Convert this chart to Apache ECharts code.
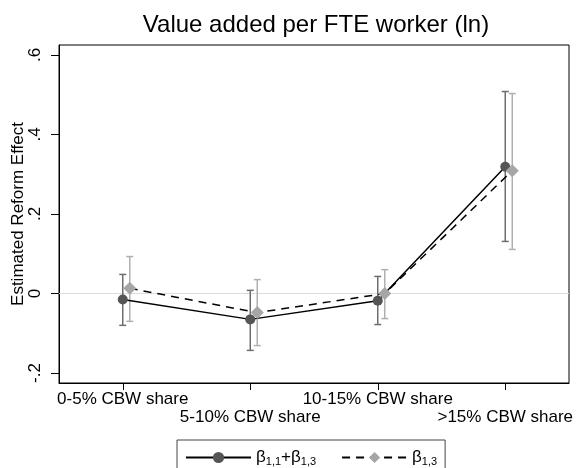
<!DOCTYPE html>
<html>
<head>
<meta charset="utf-8">
<script src="https://cdn.jsdelivr.net/npm/echarts@6/dist/echarts.min.js"></script>
<style>html,body{margin:0;padding:0;background:#fff}#c{width:577px;height:468px}</style>
</head>
<body>
<div id="c"></div>
<script>
const categories = ['0-5% CBW share', '5-10% CBW share', '10-15% CBW share', '>15% CBW share'];
const catPos = [1, 2, 3, 4];
const catRow1 = [1, 3];
const catRow2 = [2, 4];
// beta_{1,1}+beta_{1,3}
const est1 = [-0.015, -0.065, -0.018, 0.319];
const lo1 = [-0.080, -0.143, -0.078, 0.131];
const hi1 = [0.048, 0.008, 0.043, 0.508];
// beta_{1,3}
const est2 = [0.013, -0.048, 0.000, 0.309];
const lo2 = [-0.070, -0.131, -0.063, 0.111];
const hi2 = [0.093, 0.035, 0.060, 0.503];
const yTicks = [-0.2, 0, 0.2, 0.4, 0.6];

const shift2 = 0.055; // horizontal dodge of the second series
const FONT = 'Liberation Sans, Arial, Helvetica, sans-serif';

const pts1 = catPos.map((x, i) => [x, est1[i]]);
const pts2 = catPos.map((x, i) => [x + shift2, est2[i]]);
const ci1 = catPos.map((x, i) => [x, lo1[i], hi1[i]]);
const ci2 = catPos.map((x, i) => [x + shift2, lo2[i], hi2[i]]);

function ciRenderer(color) {
  return function (params, api) {
    const x = api.value(0), lo = api.value(1), hi = api.value(2);
    const a = api.coord([x, lo]), b = api.coord([x, hi]);
    const w = 3.5;
    const st = { stroke: color, lineWidth: 1.5 };
    return {
      type: 'group',
      children: [
        { type: 'line', shape: { x1: a[0], y1: a[1], x2: b[0], y2: b[1] }, style: st },
        { type: 'line', shape: { x1: a[0] - w, y1: a[1], x2: a[0] + w, y2: a[1] }, style: st },
        { type: 'line', shape: { x1: b[0] - w, y1: b[1], x2: b[0] + w, y2: b[1] }, style: st }
      ]
    };
  };
}

function fmtY(v) {
  if (v === 0) return '0';
  return String(v).replace('0.', '.');
}
function fmtX(v) {
  return categories[catPos.indexOf(v)];
}

const chart = echarts.init(document.getElementById('c'), null, { renderer: 'canvas' });
chart.setOption({
  backgroundColor: '#fff',
  animation: false,
  textStyle: { fontFamily: FONT },
  title: {
    text: 'Value added per FTE worker (ln)',
    left: 311, top: 8, textAlign: 'center',
    textStyle: { fontFamily: FONT, fontSize: 24, fontWeight: 'normal', color: '#000' }
  },
  grid: {
    left: 59, right: 8, top: 45, bottom: 85, show: true, borderColor: '#000', borderWidth: 1,
    containLabel: false, outerBoundsMode: 'none'
  },
  xAxis: [
    {
      type: 'value', min: 0.5, max: 4.5, position: 'bottom',
      axisLine: { show: true, onZero: false, lineStyle: { color: '#000', width: 1 } },
      axisTick: { show: true, length: 7, customValues: catPos, lineStyle: { color: '#000' } },
      splitLine: { show: false },
      axisLabel: {
        customValues: catRow1, margin: 8, color: '#000', fontSize: 17, fontFamily: FONT,
        showMinLabel: true, showMaxLabel: true, hideOverlap: false,
        formatter: fmtX
      }
    },
    {
      type: 'value', min: 0.5, max: 4.5, position: 'bottom',
      axisLine: { show: false, onZero: false },
      axisTick: { show: false },
      splitLine: { show: false },
      axisLabel: {
        customValues: catRow2, margin: 26, color: '#000', fontSize: 17, fontFamily: FONT,
        showMinLabel: true, showMaxLabel: true, hideOverlap: false,
        formatter: fmtX
      }
    }
  ],
  yAxis: {
    type: 'value', min: -0.225, max: 0.625,
    name: 'Estimated Reform Effect', nameLocation: 'middle', nameGap: 32, nameMoveOverlap: false,
    nameTextStyle: { fontSize: 17, color: '#000', fontFamily: FONT },
    axisLine: { show: true, onZero: false, lineStyle: { color: '#000', width: 1 } },
    axisTick: { show: true, length: 8, customValues: yTicks, lineStyle: { color: '#000' } },
    splitLine: { show: false },
    axisLabel: {
      customValues: yTicks, rotate: 90, margin: 15, color: '#000', fontSize: 17, fontFamily: FONT,
      showMinLabel: true, showMaxLabel: true,
      formatter: fmtY
    }
  },
  legend: {
    left: 177, top: 440,
    data: ['s1', 's2'],
    itemWidth: 65, itemHeight: 14, itemGap: 25,
    padding: [9, 8, 20, 8],
    borderColor: '#444', borderWidth: 1,
    formatter: function (n) {
      return n === 's1' ? '{m|β}{s|1,1}{m|+β}{s|1,3}' : '{m|β}{s|1,3}';
    },
    textStyle: {
      color: '#000', fontFamily: FONT, fontSize: 17,
      rich: {
        m: { fontSize: 17, fontFamily: FONT, color: '#000' },
        s: { fontSize: 11, fontFamily: FONT, color: '#000', padding: [9, 0, 0, 0] }
      }
    }
  },
  series: [
    {
      type: 'custom', name: 'ci1', data: ci1, renderItem: ciRenderer('#6e6e6e'),
      encode: { x: 0, y: [1, 2] }, silent: true, z: 2
    },
    {
      type: 'custom', name: 'ci2', data: ci2, renderItem: ciRenderer('#b0b0b0'),
      encode: { x: 0, y: [1, 2] }, silent: true, z: 2
    },
    {
      type: 'line', name: 's1', data: pts1,
      symbol: 'circle', symbolSize: 10,
      lineStyle: { color: '#000', width: 1.5, type: 'solid' },
      itemStyle: { color: '#555555' },
      z: 4,
      markLine: {
        silent: true, symbol: 'none', label: { show: false },
        lineStyle: { color: '#dcdcdc', width: 1, type: 'solid' },
        data: [{ yAxis: 0 }], z: 1
      }
    },
    {
      type: 'line', name: 's2', data: pts2,
      symbol: 'diamond', symbolSize: 13,
      lineStyle: { color: '#000', width: 1.5, type: [8, 6] },
      itemStyle: { color: '#a6a6a6' },
      z: 5
    }
  ]
});
</script>
</body>
</html>
